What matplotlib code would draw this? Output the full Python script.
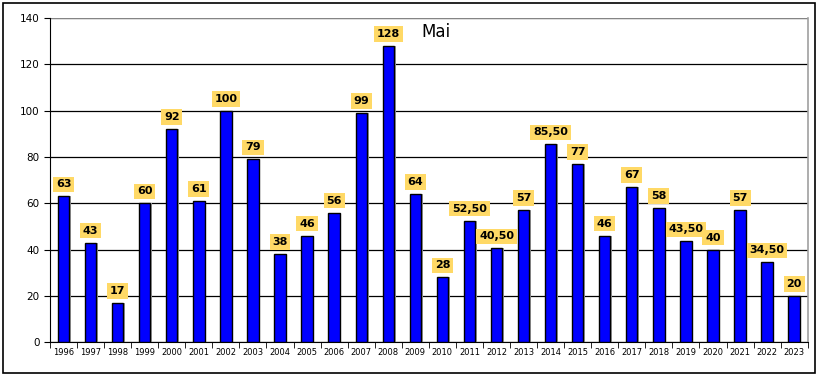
import matplotlib.pyplot as plt
import matplotlib.patches as patches
import numpy as np

# Data
years = [str(y) for y in range(1996, 2024)]
values = [63, 43, 17, 60, 92, 61, 100, 79, 38, 46, 56, 99, 128, 64, 28,
          52.5, 40.5, 57, 85.5, 77, 46, 67, 58, 43.5, 40, 57, 34.5, 20]

def fmt(v):
    if v == int(v):
        return str(int(v))
    return ("%.2f" % v).replace(".", ",")

fig = plt.figure(figsize=(8.2, 3.78), dpi=100)
ax = fig.add_axes([0.061, 0.095, 0.924, 0.857])

x = np.arange(len(years))
# shadow
ax.bar(x + 0.06, values, width=0.42, color='#a0a0a0', zorder=2, linewidth=0)
ax.bar(x, values, width=0.42, color='#0000ff', edgecolor='black', linewidth=1.0, zorder=3)

for xi, v in zip(x, values):
    ax.text(xi, v + 3, fmt(v), ha='center', va='bottom', fontsize=8, fontweight='bold',
            zorder=5,
            bbox=dict(boxstyle='square,pad=0.25', facecolor='#ffd966', edgecolor='none'))

ax.set_xlim(-0.5, len(years) - 0.5)
ax.set_ylim(0, 140)
ax.set_yticks(range(0, 141, 20))
ax.set_xticks(x)
ax.set_xticklabels(years, fontsize=6)
ax.tick_params(axis='y', labelsize=7.5, length=4)
ax.tick_params(axis='x', length=0, pad=4)
# minor ticks between categories
ax.set_xticks(np.arange(-0.5, len(years), 1), minor=True)
ax.tick_params(axis='x', which='minor', length=4)
ax.yaxis.grid(True, color='black', linewidth=0.9, zorder=0)
ax.set_axisbelow(True)

ax.spines['top'].set_visible(False)
ax.spines['right'].set_color('#a0a0a0')
ax.spines['right'].set_linewidth(1.2)
ax.axhline(140, color='#a0a0a0', linewidth=1.2)

ax.text(0.51, 0.957, 'Mai', transform=ax.transAxes, ha='center', va='center', fontsize=12)

fig.patches.append(patches.Rectangle((0.004, 0.013), 0.99, 0.98, transform=fig.transFigure,
                                     fill=False, edgecolor='black', linewidth=1.2))

fig.savefig('out.png', dpi=100)
